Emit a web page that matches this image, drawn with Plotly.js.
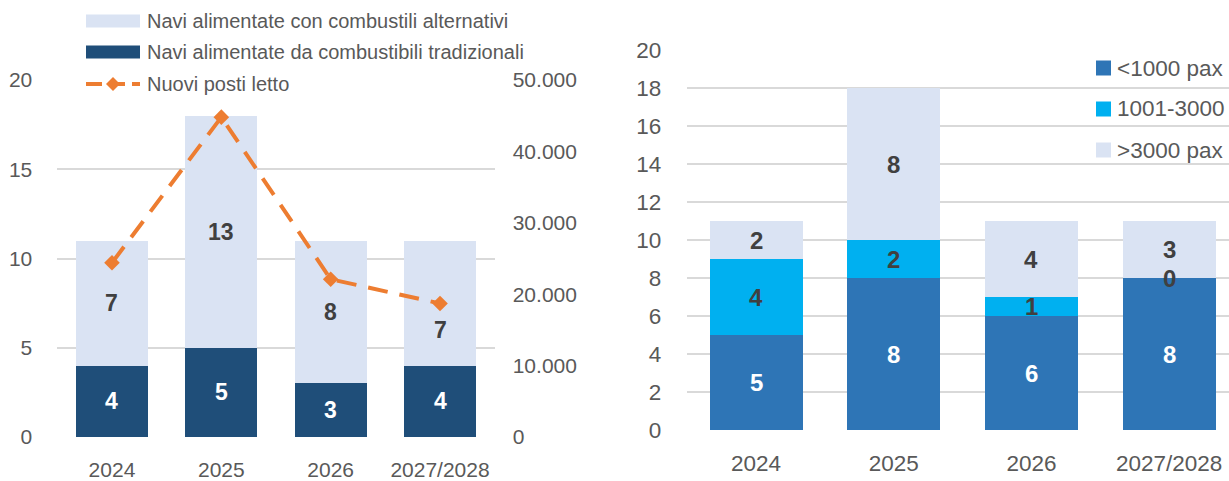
<!DOCTYPE html>
<html><head><meta charset="utf-8">
<script src="https://cdn.plot.ly/plotly-3.0.1.min.js"></script>
<style>html,body{margin:0;padding:0;background:#fff;overflow:hidden}#chart{width:1229px;height:481px}</style>
</head><body><div id="chart"></div>
<script>
// ---- data ----
const categories = ['2024', '2025', '2026', '2027/2028'];
const naviTradizionali = [4, 5, 3, 4];
const naviAlternativi = [7, 13, 8, 7];
const nuoviPostiLetto = [24400, 44800, 22100, 18700];
const paxUnder1000 = [5, 8, 6, 8];
const pax1001to3000 = [4, 2, 1, 0];
const paxOver3000 = [2, 8, 4, 3];
const leftLegendLabels = ['Navi alimentate con combustili alternativi', 'Navi alimentate da combustibili tradizionali', 'Nuovi posti letto'];
const rightLegendLabels = ['<1000 pax', '1001-3000', '>3000 pax'];
const leftYTicks = [0, 5, 10, 15, 20];
const rightY2Ticks = [0, 10000, 20000, 30000, 40000, 50000];
const rightYTicks = [0, 2, 4, 6, 8, 10, 12, 14, 16, 18, 20];

// ---- style ----
const W = 1229, H = 481;
const px = x => x / W, py = y => 1 - y / H;
const FONT = '"Liberation Sans", Arial, sans-serif';
const TICK_L = {family: FONT, size: 21, color: '#595959'};
const TICK_R = {family: FONT, size: 22.5, color: '#595959'};
const C_DARK = '#1F4E79', C_LIGHT = '#DAE3F3', C_ORANGE = '#ED7D31', C_MID = '#2E75B6', C_CYAN = '#00B0F0';
const GRID = '#D9D9D9';
const esc = s => s.replace(/&/g, '&amp;').replace(/</g, '&lt;').replace(/>/g, '&gt;');

const traces = [
  {type: 'bar', x: categories, y: naviTradizionali, xaxis: 'x', yaxis: 'y', name: leftLegendLabels[1],
   marker: {color: C_DARK}, width: 0.66, showlegend: false},
  {type: 'bar', x: categories, y: naviAlternativi, xaxis: 'x', yaxis: 'y', name: leftLegendLabels[0],
   marker: {color: C_LIGHT}, width: 0.66, showlegend: false},
  {type: 'scatter', mode: 'lines+markers', x: categories, y: nuoviPostiLetto, xaxis: 'x', yaxis: 'y2', name: leftLegendLabels[2],
   line: {color: C_ORANGE, width: 4, dash: '20px,12px'}, marker: {symbol: 'diamond', size: 12, color: C_ORANGE}, showlegend: false},
  {type: 'bar', x: categories, y: paxUnder1000, xaxis: 'x2', yaxis: 'y3', name: rightLegendLabels[0],
   marker: {color: C_MID}, width: 0.675, showlegend: false},
  {type: 'bar', x: categories, y: pax1001to3000, xaxis: 'x2', yaxis: 'y3', name: rightLegendLabels[1],
   marker: {color: C_CYAN}, width: 0.675, showlegend: false},
  {type: 'bar', x: categories, y: paxOver3000, xaxis: 'x2', yaxis: 'y3', name: rightLegendLabels[2],
   marker: {color: C_LIGHT}, width: 0.675, showlegend: false}
];

// ---- bar segment labels ----
const annotations = [];
function stackLabels(xref, yref, series, colors, size, shifts) {
  categories.forEach((c, i) => {
    let base = 0;
    series.forEach((s, k) => {
      const v = s[i];
      annotations.push({xref, yref, x: i, y: base + v / 2, text: String(v), showarrow: false,
        yshift: (shifts[k + '-' + i] || 0),
        font: {family: FONT, size, color: colors[k], weight: 'bold'}});
      base += v;
    });
  });
}
stackLabels('x', 'y', [naviTradizionali, naviAlternativi], ['#FFFFFF', '#404040'], 23, {'1-3': -27});
stackLabels('x2', 'y3', [paxUnder1000, pax1001to3000, paxOver3000], ['#FFFFFF', '#404040', '#404040'], 24, {});

// ---- legends (drawn) ----
const shapes = [];
const LEG_L = {family: FONT, size: 20, color: '#595959'};
const LEG_R = {family: FONT, size: 22.5, color: '#595959'};
const leftRows = [21, 52, 84];
shapes.push({type: 'rect', xref: 'paper', yref: 'paper', x0: px(86), x1: px(140), y0: py(27.5), y1: py(14.5), fillcolor: C_LIGHT, line: {width: 0}});
shapes.push({type: 'rect', xref: 'paper', yref: 'paper', x0: px(86), x1: px(140), y0: py(58.5), y1: py(45.5), fillcolor: C_DARK, line: {width: 0}});
shapes.push({type: 'line', xref: 'paper', yref: 'paper', x0: px(86), x1: px(140), y0: py(84), y1: py(84), line: {color: C_ORANGE, width: 4, dash: '16px,7px'}});
shapes.push({type: 'path', xref: 'paper', yref: 'paper', fillcolor: C_ORANGE, line: {width: 0},
  path: `M ${px(106)} ${py(84)} L ${px(113)} ${py(77)} L ${px(120)} ${py(84)} L ${px(113)} ${py(91)} Z`});
leftLegendLabels.forEach((t, k) => annotations.push({xref: 'paper', yref: 'paper', x: px(145), y: py(leftRows[k]),
  xanchor: 'left', yanchor: 'middle', text: esc(t), showarrow: false, font: LEG_L}));

const rightRows = [68, 109, 150];
const rightColors = [C_MID, C_CYAN, C_LIGHT];
rightLegendLabels.forEach((t, k) => {
  shapes.push({type: 'rect', xref: 'paper', yref: 'paper', x0: px(1096), x1: px(1111), y0: py(rightRows[k] + 7.5), y1: py(rightRows[k] - 7.5),
    fillcolor: rightColors[k], line: {width: 0}});
  annotations.push({xref: 'paper', yref: 'paper', x: px(1115), y: py(rightRows[k]), xanchor: 'left', yanchor: 'middle',
    text: esc(t), showarrow: false, font: LEG_R});
});

const layout = {
  width: W, height: H, margin: {l: 0, r: 0, t: 0, b: 0}, paper_bgcolor: '#fff', plot_bgcolor: 'rgba(0,0,0,0)',
  barmode: 'stack', separators: ',.', showlegend: false, font: {family: FONT, color: '#595959'},
  xaxis: {domain: [px(57.3), px(494.7)], anchor: 'y', type: 'category', range: [-0.5, 3.5], showgrid: false, zeroline: false,
    showline: false, ticks: '', tickfont: TICK_L, ticklabelstandoff: 18, fixedrange: true},
  yaxis: {domain: [py(437), py(80)], anchor: 'x', range: [0, 20], tickvals: leftYTicks, gridcolor: GRID, gridwidth: 2,
    zeroline: false, showline: false, ticks: '', tickfont: TICK_L, ticklabelstandoff: 24, fixedrange: true},
  yaxis2: {overlaying: 'y', side: 'right', anchor: 'x', range: [0, 50000], tickvals: rightY2Ticks, tickformat: ',.0f',
    showgrid: false, zeroline: false, showline: false, ticks: '', tickfont: TICK_L, ticklabelstandoff: 17, fixedrange: true},
  xaxis2: {domain: [px(687.2), 1], anchor: 'y3', type: 'category', range: [-0.5, 3.435], showgrid: false, zeroline: false,
    showline: false, ticks: '', tickfont: TICK_R, ticklabelstandoff: 17, fixedrange: true},
  yaxis3: {domain: [py(430), py(50)], anchor: 'x2', range: [0, 20], tickvals: rightYTicks, gridcolor: GRID, gridwidth: 2,
    zeroline: false, showline: false, ticks: '', tickfont: TICK_R, ticklabelstandoff: 25, fixedrange: true},
  annotations, shapes
};

Plotly.newPlot('chart', traces, layout, {displayModeBar: false, staticPlot: true});
</script></body></html>
